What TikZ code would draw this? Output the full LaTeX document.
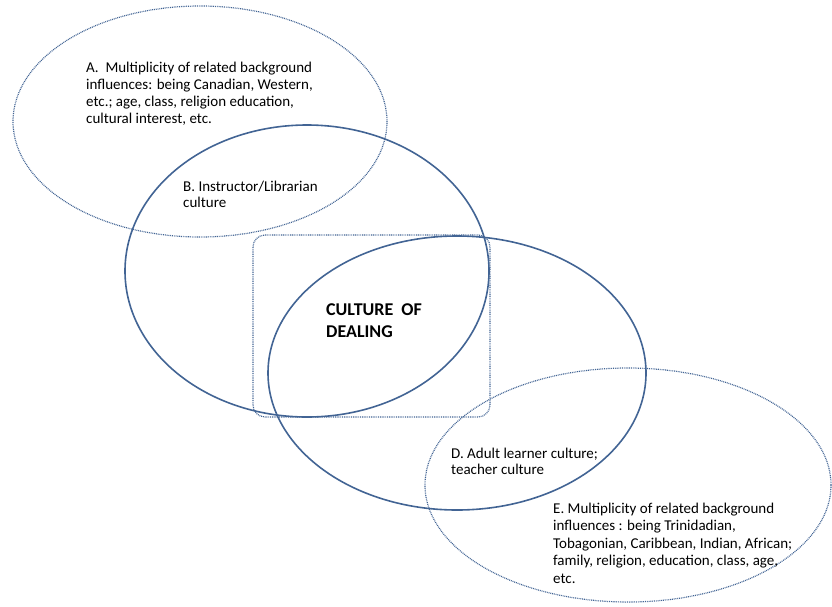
\documentclass[tikz,border=0pt]{standalone}
\usepackage{fontspec}
\setmainfont{Carlito}
\usetikzlibrary{shapes.geometric}
\definecolor{lineblue}{RGB}{66,100,148}
\begin{document}
\begin{tikzpicture}[x=1pt,y=-1pt,
  solidring/.style={ellipse,draw=lineblue,line width=1.6pt,inner sep=0pt,outer sep=0pt},
  dotring/.style={ellipse,draw=lineblue,line width=1.2pt,dash pattern=on 0.9pt off 0.9pt,inner sep=0pt,outer sep=0pt},
  label/.style={anchor=base west,align=left,inner sep=0pt,font=\fontsize{15}{17}\selectfont},
  tightlabel/.style={label,font=\fontsize{15}{15.5}\selectfont}]
\useasboundingbox (0,0) rectangle (832,606);
\node[dotring,minimum width=374pt,minimum height=231pt] (A) at (200,121.5) {};
\node[solidring,minimum width=364pt,minimum height=292pt] (B) at (307,271) {};
\node[solidring,minimum width=378pt,minimum height=274pt] (D) at (457,373) {};
\node[dotring,minimum width=406pt,minimum height=234pt] (E) at (628,485) {};
\draw[lineblue,line width=1.2pt,dash pattern=on 0.9pt off 0.9pt,rounded corners=12pt] (253,235) rectangle (490,417);
\node[label] (At) at (86,123) {A.\ \ Multiplicity of related background\\influences: being Canadian, Western,\\etc.; age, class, religion education,\\cultural interest, etc.};
\node[tightlabel] (Bt) at (183,207) {B. Instructor/Librarian\\culture};
\node[anchor=base west,align=left,inner sep=0pt,font=\fontsize{18}{22}\selectfont\bfseries] (C) at (326,337) {CULTURE\ \ OF\\DEALING};
\node[tightlabel] (Dt) at (451,474) {D. Adult learner culture;\\teacher culture};
\node[label,font=\fontsize{15}{17.5}\selectfont] (Et) at (553,583) {E. Multiplicity of related background\\influences : being Trinidadian,\\Tobagonian, Caribbean, Indian, African;\\family, religion, education, class, age,\\etc.};
\end{tikzpicture}
\end{document}
